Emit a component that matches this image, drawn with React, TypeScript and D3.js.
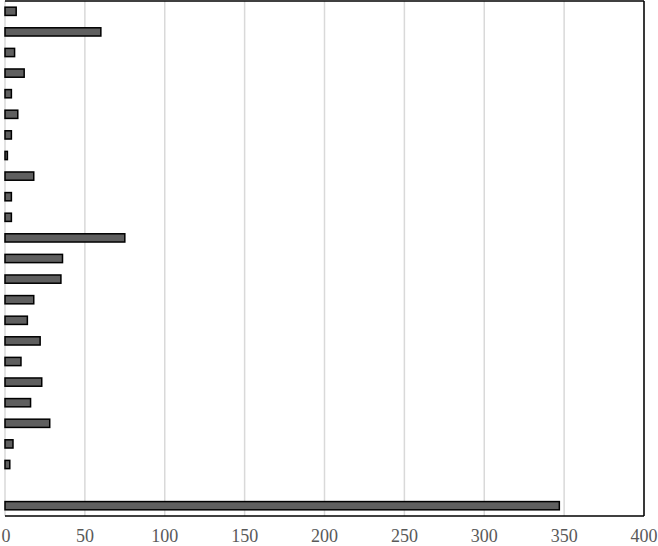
import React from "react";
import * as d3 from "d3";

const categories = [
  "C1","C2","C3","C4","C5","C6","C7","C8","C9","C10","C11","C12","C13",
  "C14","C15","C16","C17","C18","C19","C20","C21","C22","C23","C24","C25",
];
const values: (number | null)[] = [
  7, 60, 6, 12, 4, 8, 4, 1.5, 18, 4, 4, 75, 36, 35, 18, 14, 22, 10, 23, 16, 28, 5, 3, null, 347,
];
const xTicks = [0, 50, 100, 150, 200, 250, 300, 350, 400];

const W = 658;
const H = 546;
const M = { left: 5, right: 14, top: 1, bottom: 30 };

export default function App() {
  const x = d3.scaleLinear().domain([0, 400]).range([M.left, W - M.right]);
  const y = d3
    .scaleBand<string>()
    .domain(categories)
    .range([M.top, H - M.bottom])
    .paddingInner(0.6)
    .paddingOuter(0.3);
  const bh = y.bandwidth();
  return (
    <svg
      width={W}
      height={H}
      style={{ position: "absolute", left: 0, top: 0, background: "#fff" }}
    >
      {xTicks.map((t) => (
        <line
          key={"g" + t}
          x1={x(t)}
          x2={x(t)}
          y1={M.top}
          y2={H - M.bottom}
          stroke="#d9d9d9"
          strokeWidth={1.5}
        />
      ))}
      {categories.map((c, i) =>
        values[i] == null ? null : (
          <rect
            key={c}
            x={x(0)}
            y={(y(c) as number)}
            width={x(values[i] as number) - x(0)}
            height={bh}
            fill="#5f5f5f"
            stroke="#000"
            strokeWidth={1.5}
          />
        )
      )}
      <line x1={M.left} x2={W - M.right} y1={M.top} y2={M.top} stroke="#000" strokeWidth={1.5} />
      <line x1={W - M.right} x2={W - M.right} y1={M.top} y2={H - M.bottom} stroke="#000" strokeWidth={1.5} />
      <line x1={M.left} x2={W - M.right} y1={H - M.bottom} y2={H - M.bottom} stroke="#000" strokeWidth={1.5} />
      {xTicks.map((t) => (
        <text
          key={"t" + t}
          x={Math.max(x(t), 6)}
          y={542}
          textAnchor="middle"
          fontFamily="'Liberation Serif', 'DejaVu Serif', serif"
          fontSize={18}
          fill="#595959"
        >
          {t}
        </text>
      ))}
    </svg>
  );
}
